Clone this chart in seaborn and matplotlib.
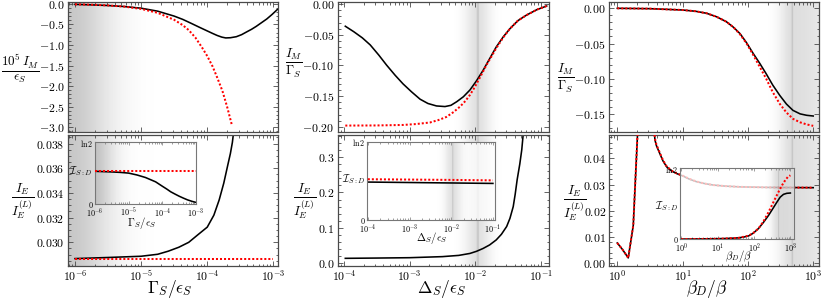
import numpy as np
import matplotlib
matplotlib.use("Agg")
import matplotlib.pyplot as plt
import seaborn as sns
from matplotlib.ticker import (FixedLocator, FuncFormatter, AutoMinorLocator,
                               LogLocator, NullFormatter)
from matplotlib.colors import LinearSegmentedColormap

LN2 = np.log(2)

# ---------------- data (x given as log10) ----------------
# Column 1 : x = Gamma_S / eps_S
c1_top_black_lx = [-6.0, -5.75, -5.5, -5.25, -5.0, -4.75, -4.5, -4.37, -4.25, -4.12, -4.0,
                   -3.92, -3.85, -3.78, -3.72, -3.65, -3.56, -3.48, -3.4, -3.33, -3.26,
                   -3.18, -3.1, -3.02, -2.94]
c1_top_black_y = [-0.015, -0.027, -0.043, -0.068, -0.108, -0.18, -0.30, -0.38, -0.47, -0.57,
                  -0.66, -0.72, -0.77, -0.81, -0.83, -0.825, -0.80, -0.75, -0.68, -0.62,
                  -0.55, -0.46, -0.37, -0.26, -0.14]
c1_top_red_lx = [-6.0, -5.75, -5.5, -5.25, -5.0, -4.75, -4.5, -4.37, -4.28, -4.18, -4.08,
                 -4.0, -3.92, -3.85, -3.77, -3.70, -3.63]
c1_top_red_y = [-0.013, -0.023, -0.040, -0.070, -0.125, -0.22, -0.39, -0.52, -0.64, -0.82,
                -1.06, -1.27, -1.52, -1.79, -2.12, -2.50, -2.93]

c1_bot_black_lx = [-6.0, -5.5, -5.0, -4.75, -4.59, -4.43, -4.28, -4.14, -4.0, -3.9, -3.82,
                   -3.75, -3.69, -3.65, -3.62, -3.6]
c1_bot_black_y = [0.02868, 0.02877, 0.02887, 0.02903, 0.02928, 0.02960, 0.03000, 0.03062,
                  0.03123, 0.03220, 0.03343, 0.03480, 0.03625, 0.03720, 0.03810, 0.03900]
c1_bot_red_lx = [-6.0, -3.0]
c1_bot_red_y = [0.02865, 0.02865]

c1_ins_black_lx = [-6.0, -5.5, -5.25, -5.0, -4.75, -4.5, -4.2, -4.0, -3.87, -3.75, -3.62,
                   -3.5, -3.37, -3.25, -3.12, -3.0]
c1_ins_black_y = [0.367, 0.360, 0.355, 0.347, 0.326, 0.298, 0.250, 0.201, 0.170, 0.139,
                  0.113, 0.090, 0.068, 0.049, 0.033, 0.021]
c1_ins_red_lx = [-6.0, -3.0]
c1_ins_red_y = [0.367, 0.367]

# Column 2 : x = Delta_S / eps_S
c2_top_black_lx = [-3.98, -3.85, -3.72, -3.6, -3.47, -3.35, -3.22, -3.1, -2.97, -2.84, -2.72,
                   -2.59, -2.46, -2.37, -2.28, -2.18, -2.08, -1.98, -1.88, -1.78, -1.68,
                   -1.57, -1.47, -1.35, -1.22, -1.06, -0.91]
c2_top_black_y = [-0.036, -0.045, -0.055, -0.0665, -0.083, -0.0995, -0.116, -0.130, -0.143,
                  -0.155, -0.162, -0.166, -0.167, -0.165, -0.159, -0.151, -0.140, -0.125,
                  -0.108, -0.089, -0.070, -0.053, -0.040, -0.027, -0.018, -0.009, -0.003]
c2_top_red_lx = [-3.98, -3.5, -3.1, -2.9, -2.69, -2.56, -2.44, -2.33, -2.23, -2.15, -2.08,
                 -2.01, -1.95, -1.89, -1.83, -1.75, -1.68, -1.57, -1.47, -1.35, -1.22,
                 -1.06, -0.91]
c2_top_red_y = [-0.198, -0.1978, -0.197, -0.1955, -0.193, -0.189, -0.184, -0.176, -0.167,
                -0.158, -0.148, -0.136, -0.124, -0.112, -0.0995, -0.085, -0.072, -0.054,
                -0.040, -0.027, -0.018, -0.009, -0.003]

c2_bot_black_lx = [-3.98, -3.5, -3.0, -2.5, -2.25, -2.08, -1.98, -1.88, -1.78, -1.68, -1.6,
                   -1.52, -1.47, -1.42, -1.39, -1.36, -1.32, -1.29, -1.27]
c2_bot_black_y = [0.0142, 0.0150, 0.0160, 0.0190, 0.0225, 0.028, 0.034, 0.042, 0.052, 0.066,
                  0.082, 0.104, 0.127, 0.160, 0.195, 0.236, 0.28, 0.32, 0.36]

c2_ins_black_lx = [-4.0, -3.0, -2.0, -1.0]
c2_ins_black_y = [0.335, 0.331, 0.327, 0.323]
c2_ins_red_lx = [-4.0, -3.0, -2.0, -1.0]
c2_ins_red_y = [0.360, 0.357, 0.354, 0.350]

# Column 3 : x = beta_D / beta
c3_top_black_lx = [0.0, 0.5, 1.0, 1.2, 1.37, 1.52, 1.67, 1.78, 1.88, 1.98, 2.08, 2.18, 2.28,
                   2.38, 2.49, 2.59, 2.69, 2.8, 2.9, 3.0]
c3_top_black_y = [0.0, -0.0005, -0.0024, -0.0042, -0.0071, -0.012, -0.019, -0.027, -0.036,
                  -0.049, -0.064, -0.078, -0.093, -0.109, -0.124, -0.136, -0.145, -0.150,
                  -0.152, -0.153]
c3_top_red_lx = [0.0, 0.5, 1.0, 1.2, 1.37, 1.52, 1.67, 1.78, 1.88, 1.98, 2.08, 2.18, 2.28,
                 2.38, 2.49, 2.59, 2.69, 2.8, 2.9, 3.0]
c3_top_red_y = [0.0, -0.0005, -0.0024, -0.0042, -0.0071, -0.012, -0.019, -0.027, -0.037,
                -0.050, -0.066, -0.083, -0.100, -0.119, -0.136, -0.148, -0.157, -0.162,
                -0.165, -0.167]

c3_bot_seg1_lx = [0.0, 0.08, 0.168, 0.245, 0.306, 0.316]
c3_bot_seg1_y = [0.0077, 0.0052, 0.0020, 0.0144, 0.047, 0.052]
c3_bot_seg2_lx = [0.56, 0.577, 0.6, 0.65, 0.7, 0.755, 0.83, 0.908, 1.01, 1.1, 1.21, 1.33,
                  1.47, 1.65, 1.88, 2.3, 3.0]
c3_bot_seg2_y = [0.052, 0.047, 0.0448, 0.0419, 0.0390, 0.0368, 0.0352, 0.0342, 0.0332,
                 0.0321, 0.0311, 0.0304, 0.0298, 0.0294, 0.0291, 0.0289, 0.0288]
c3_bot_red_seg2_y = [0.052, 0.0475, 0.0452, 0.0422, 0.0393, 0.0370, 0.0353, 0.0343, 0.0333,
                     0.0322, 0.0312, 0.0304, 0.0298, 0.0294, 0.0291, 0.0289, 0.0288]

c3_ins_black_lx = [0.0, 1.0, 1.3, 1.57, 1.72, 1.85, 1.98, 2.12, 2.26, 2.4, 2.52, 2.63, 2.72,
                   2.81, 2.9, 3.0]
c3_ins_black_y = [0.002, 0.006, 0.009, 0.014, 0.022, 0.033, 0.060, 0.104, 0.165, 0.233,
                  0.300, 0.362, 0.410, 0.437, 0.447, 0.450]
c3_ins_red_lx = [0.0, 1.0, 1.57, 1.85, 1.98, 2.12, 2.26, 2.4, 2.49, 2.58, 2.68, 2.77, 2.86,
                 2.93, 3.0]
c3_ins_red_y = [0.002, 0.004, 0.014, 0.035, 0.062, 0.104, 0.175, 0.265, 0.330, 0.395, 0.465,
                0.525, 0.575, 0.606, 0.622]

# ---------------- style ----------------
plt.rcParams.update({
    "mathtext.fontset": "cm",
    "font.family": "serif",
    "font.serif": ["DejaVu Serif"],
    "axes.formatter.use_mathtext": True,
})

W, H = 822, 300
fig = plt.figure(figsize=(W / 100, H / 100), dpi=100)


def px_axes(l, r, t, b):
    return fig.add_axes([l / W, (H - b) / H, (r - l) / W, (b - t) / H])


FRAME = "#4a4a4a"
RED = "#ff0000"
BLACK_LW = 1.15
RED_LW = 1.45
RED_LS = (0, (1.0, 1.0))
shade_cmap = LinearSegmentedColormap.from_list("sh", [(0, 0, 0, 0), (0, 0, 0, 1)])


def shade(ax, func, lo, hi, n=500):
    edges = np.linspace(lo, hi, n + 1)
    mids = 0.5 * (edges[:-1] + edges[1:])
    C = func(mids)[None, :]
    ax.pcolormesh(10 ** edges, np.array([0.0, 1.0]), C, cmap=shade_cmap, vmin=0, vmax=1,
                  transform=ax.get_xaxis_transform(), shading="flat", zorder=0,
                  edgecolors="none", antialiased=False)


def shade1(lx):
    return 0.22 * np.exp(-((lx + 6.11) / 0.65) ** 2)


def shade2(lx):
    return 0.12 * np.exp(-((lx + 1.96) / 0.2) ** 2) + 0.10 * np.exp(-((lx + 1.96) / 0.018) ** 2)


def shade3(lx):
    s = np.where(lx < 2.68, 0.2, 0.7)
    return 0.13 * np.exp(-((lx - 2.68) / s) ** 2) + 0.09 * np.exp(-((lx - 2.68) / 0.015) ** 2)


def fmt(nd):
    def f(v, p):
        if abs(v) < 1e-12:
            v = 0.0
        return "$%.*f$" % (nd, v)
    return FuncFormatter(f)


logfmt = FuncFormatter(lambda v, p: "$10^{%d}$" % int(round(np.log10(v))))


def style_main(ax, xlim, ylim, yticks, nd, nminor, show_x):
    ax.set_xscale("log")
    ax.set_xlim(*xlim)
    ax.set_ylim(*ylim)
    ax.xaxis.set_major_locator(LogLocator(base=10, numticks=20))
    ax.xaxis.set_minor_locator(LogLocator(base=10, subs=np.arange(2, 10), numticks=50))
    ax.xaxis.set_minor_formatter(NullFormatter())
    ax.xaxis.set_major_formatter(logfmt)
    ax.yaxis.set_major_locator(FixedLocator(yticks))
    ax.yaxis.set_minor_locator(AutoMinorLocator(nminor))
    ax.yaxis.set_major_formatter(fmt(nd))
    ax.tick_params(which="both", direction="in", top=True, right=True,
                   color=FRAME, width=0.6, labelsize=8.5, pad=2.5)
    ax.tick_params(which="major", length=3.5)
    ax.tick_params(which="minor", length=1.8)
    ax.tick_params(axis="x", labelbottom=show_x, pad=2.5)
    for sp in ax.spines.values():
        sp.set_color(FRAME)
        sp.set_linewidth(0.9)
    ax.set_xlabel("")
    ax.set_ylabel("")


def style_inset(ax, xlim, xticks):
    ax.set_xscale("log")
    ax.set_xlim(*xlim)
    ax.set_ylim(0, LN2)
    ax.set_facecolor((1, 1, 1, 0.75))
    ax.xaxis.set_major_locator(FixedLocator(xticks))
    ax.xaxis.set_minor_locator(LogLocator(base=10, subs=np.arange(2, 10), numticks=50))
    ax.xaxis.set_minor_formatter(NullFormatter())
    ax.xaxis.set_major_formatter(logfmt)
    ax.yaxis.set_major_locator(FixedLocator([0, LN2]))
    ax.yaxis.set_major_formatter(FuncFormatter(lambda v, p: "$0$" if v < 0.1 else r"$\ln 2$"))
    ax.tick_params(which="both", direction="in", top=True, right=True,
                   color="#777777", width=0.5, labelsize=5.8, pad=1.2)
    ax.tick_params(which="major", length=2.5)
    ax.tick_params(which="minor", length=1.2)
    for sp in ax.spines.values():
        sp.set_color("#777777")
        sp.set_linewidth(0.8)
    ax.set_xlabel("")
    ax.set_ylabel("")


def line(ax, lx, y, red=False):
    x = 10.0 ** np.asarray(lx)
    if red:
        sns.lineplot(x=x, y=y, ax=ax, color=RED, lw=RED_LW, linestyle=RED_LS,
                     sort=False, estimator=None, zorder=3)
    else:
        sns.lineplot(x=x, y=y, ax=ax, color="black", lw=BLACK_LW,
                     sort=False, estimator=None, zorder=2)


def set_label(ax, which, text, cx, cy, bbox_px, size):
    l, r, t, b = bbox_px
    fx = (cx - l) / (r - l)
    fy = (b - cy) / (b - t)
    if which == "y":
        ax.set_ylabel(text, rotation=0, fontsize=size, ha="center", va="center")
        ax.yaxis.set_label_coords(fx, fy)
    else:
        ax.set_xlabel(text, fontsize=size, ha="center", va="center")
        ax.xaxis.set_label_coords(fx, fy)


cols = [(68, 278), (337.7, 549.3), (609.3, 818.7)]
top_tb = (1.7, 131.7)
bot_tb = (135.0, 265.5)

IM_EPS = r"$\frac{10^5\, I_M}{\epsilon_S}$"
IE = r"$\frac{I_E}{I_E^{(L)}}$"
IM_G = r"$\frac{I_M}{\Gamma_S}$"
ISD = r"$\mathcal{I}_{S:D}$"
YL = 13.5
XL = 12.5
XLY = 289.5

# ---------------- column 1 ----------------
b = (cols[0][0], cols[0][1], *top_tb)
ax = px_axes(*b)
shade(ax, shade1, -6.2, -2.8)
line(ax, c1_top_black_lx, c1_top_black_y)
line(ax, c1_top_red_lx, c1_top_red_y, red=True)
style_main(ax, (10 ** -6.106, 10 ** -2.93), (-3.107, 0.05),
           [0, -0.5, -1.0, -1.5, -2.0, -2.5, -3.0], 1, 5, False)
set_label(ax, "y", IM_EPS, 20, 69, b, YL)

b = (cols[0][0], cols[0][1], *bot_tb)
ax = px_axes(*b)
shade(ax, shade1, -6.2, -2.8)
line(ax, c1_bot_black_lx, c1_bot_black_y)
line(ax, c1_bot_red_lx, c1_bot_red_y, red=True)
style_main(ax, (10 ** -6.106, 10 ** -2.93), (0.02812, 0.0387),
           [0.030, 0.032, 0.034, 0.036, 0.038], 3, 4, True)
set_label(ax, "y", IE, 22.5, 201, b, YL)
set_label(ax, "x", r"$\Gamma_S/\epsilon_S$", 170, XLY, b, XL)

b = (95, 196, 142, 204.3)
ax = px_axes(*b)
shade(ax, shade1, -6.05, -2.95)
line(ax, c1_ins_black_lx, c1_ins_black_y)
line(ax, c1_ins_red_lx, c1_ins_red_y, red=True)
style_inset(ax, (1e-6, 1e-3), [1e-6, 1e-5, 1e-4, 1e-3])
set_label(ax, "y", ISD, 81, 171, b, 7.5)
set_label(ax, "x", r"$\Gamma_S/\epsilon_S$", 142, 223, b, 7.8)

# ---------------- column 2 ----------------
b = (cols[1][0], cols[1][1], *top_tb)
ax = px_axes(*b)
shade(ax, shade2, -4.2, -0.8)
line(ax, c2_top_black_lx, c2_top_black_y)
line(ax, c2_top_red_lx, c2_top_red_y, red=True)
style_main(ax, (10 ** -4.096, 10 ** -0.87), (-0.208, 0.004),
           [0.0, -0.05, -0.10, -0.15, -0.20], 2, 5, False)
set_label(ax, "y", IM_G, 294, 63, b, YL)

b = (cols[1][0], cols[1][1], *bot_tb)
ax = px_axes(*b)
shade(ax, shade2, -4.2, -0.8)
line(ax, c2_bot_black_lx, c2_bot_black_y)
style_main(ax, (10 ** -4.096, 10 ** -0.87), (-0.006, 0.362),
           [0.0, 0.1, 0.2, 0.3], 1, 5, True)
set_label(ax, "y", IE, 305, 201, b, YL)
set_label(ax, "x", r"$\Delta_S/\epsilon_S$", 442, XLY, b, XL)

b = (367, 495, 141.5, 220)
ax = px_axes(*b)
shade(ax, shade2, -4.05, -0.9)
line(ax, c2_ins_black_lx, c2_ins_black_y)
line(ax, c2_ins_red_lx, c2_ins_red_y, red=True)
style_inset(ax, (10 ** -4.02, 10 ** -0.95), [1e-4, 1e-3, 1e-2, 1e-1])
set_label(ax, "y", ISD, 354, 178.7, b, 7.5)
set_label(ax, "x", r"$\Delta_S/\epsilon_S$", 432, 238, b, 7.8)

# ---------------- column 3 ----------------
b = (cols[2][0], cols[2][1], *top_tb)
ax = px_axes(*b)
shade(ax, shade3, -0.2, 3.2)
line(ax, c3_top_black_lx, c3_top_black_y)
line(ax, c3_top_red_lx, c3_top_red_y, red=True)
style_main(ax, (10 ** -0.122, 10 ** 3.084), (-0.1753, 0.0094),
           [0.0, -0.05, -0.10, -0.15], 2, 5, False)
set_label(ax, "y", IM_G, 566, 78, b, YL)

b = (cols[2][0], cols[2][1], *bot_tb)
ax = px_axes(*b)
shade(ax, shade3, -0.2, 3.2)
line(ax, c3_bot_seg1_lx, c3_bot_seg1_y)
line(ax, c3_bot_seg2_lx, c3_bot_seg2_y)
line(ax, c3_bot_seg1_lx, c3_bot_seg1_y, red=True)
line(ax, c3_bot_seg2_lx, c3_bot_red_seg2_y, red=True)
style_main(ax, (10 ** -0.122, 10 ** 3.084), (-0.0009, 0.0489),
           [0.0, 0.01, 0.02, 0.03, 0.04], 2, 5, True)
set_label(ax, "y", IE, 575, 203, b, YL)
set_label(ax, "x", r"$\beta_D/\beta$", 707, XLY, b, XL)

b = (680, 794, 168, 239.3)
ax = px_axes(*b)
shade(ax, shade3, -0.1, 3.2)
line(ax, c3_ins_black_lx, c3_ins_black_y)
line(ax, c3_ins_red_lx, c3_ins_red_y, red=True)
style_inset(ax, (10 ** -0.04, 10 ** 3.1), [1, 10, 100, 1000])
set_label(ax, "y", ISD, 667, 206, b, 7.5)
set_label(ax, "x", r"$\beta_D/\beta$", 738, 255.5, b, 7.8)

fig.savefig("out.png", dpi=100)
